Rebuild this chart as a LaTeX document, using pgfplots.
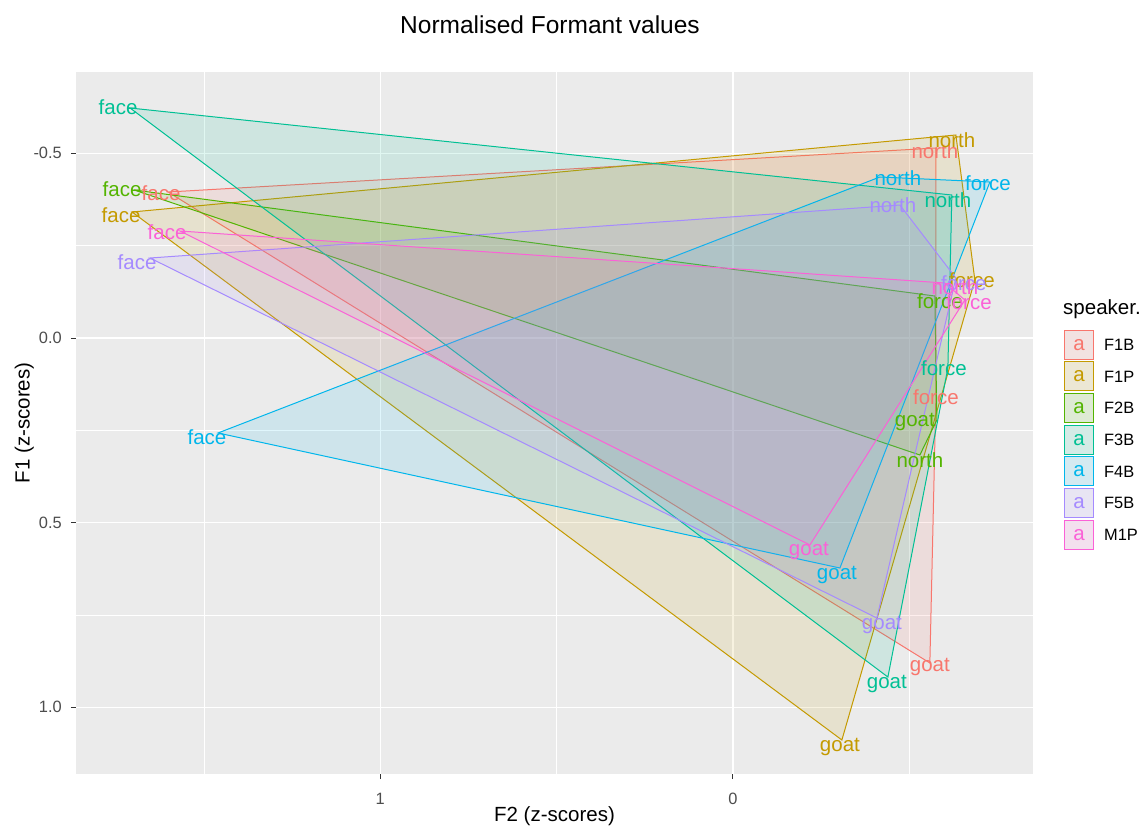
\documentclass[border=0pt]{standalone}
\usepackage{pgfplots}
\pgfplotsset{compat=1.18}
\usepackage{fontspec}
\setmainfont{Liberation Sans}
\definecolor{cA}{HTML}{F8766D}
\definecolor{cB}{HTML}{C49A00}
\definecolor{cC}{HTML}{53B400}
\definecolor{cD}{HTML}{00C094}
\definecolor{cE}{HTML}{00B6EB}
\definecolor{cF}{HTML}{A58AFF}
\definecolor{cG}{HTML}{FB61D7}
\definecolor{panel}{HTML}{EBEBEB}
\definecolor{gthirty}{HTML}{4D4D4D}
\definecolor{gtwenty}{HTML}{333333}
\definecolor{keybg}{HTML}{F2F2F2}
\newcommand\lab{\fontsize{20.5bp}{24bp}\selectfont}
\newcommand\tck{\fontsize{16.4bp}{19bp}\selectfont}
\pgfplotsset{
  poly/.style={draw=#1, fill=#1, fill opacity=0.12, draw opacity=1, line width=1bp},
  labs/.style={draw=none, mark=none, nodes near coords, point meta=explicit symbolic,
    every node near coord/.append style={anchor=center, inner sep=0pt, font=\lab, text=#1}},
}
\begin{document}
\begin{tikzpicture}[x=1bp,y=1bp]
\path[use as bounding box] (0,0) rectangle (1142,826);
\begin{axis}[
  at={(76bp,52bp)}, anchor=south west,
  scale only axis, width=957bp, height=702bp,
  xmin=-0.851, xmax=1.863, ymin=-0.7203, ymax=1.1806,
  x dir=reverse, y dir=reverse,
  axis background/.style={fill=panel},
  axis line style={draw=none},
  xtick={0,1}, xticklabels={0,1},
  ytick={-0.5,0,0.5,1}, yticklabels={-0.5,0.0,0.5,1.0},
  minor xtick={-0.5,0.5,1.5}, minor ytick={-0.25,0.25,0.75},
  grid=both,
  major grid style={white, line width=1.4bp},
  minor grid style={white, line width=0.7bp},
  tick align=outside, major tick length=5bp, minor tick length=0pt,
  major tick style={color=gtwenty, line width=1bp},
  xtick pos=left, ytick pos=left,
  xticklabel style={font=\tck, text=gthirty, inner sep=0pt, anchor=north},
  yticklabel style={font=\tck, text=gthirty, inner sep=0pt, anchor=east},
  xticklabel shift=14bp, yticklabel shift=9bp,
  clip=true,
]
% polygons
\addplot[poly=cA] table {
x y
1.6019 -0.3953
-0.5756 -0.5145
-0.5756 0.1598
-0.5585 0.8800
} -- cycle;
\addplot[poly=cB] table {
x y
1.7040 -0.3412
-0.6323 -0.5497
-0.6861 -0.1571
-0.3090 1.0885
} -- cycle;
\addplot[poly=cC] table {
x y
1.6983 -0.4008
-0.5727 -0.1137
-0.5784 0.2220
-0.5302 0.3168
} -- cycle;
\addplot[poly=cD] table {
x y
1.7097 -0.6228
-0.6209 -0.3872
-0.6096 0.0812
-0.4395 0.9180
} -- cycle;
\addplot[poly=cE] table {
x y
1.4602 0.2572
-0.4168 -0.4360
-0.7287 -0.4224
-0.3034 0.6228
} -- cycle;
\addplot[poly=cF] table {
x y
1.6530 -0.2166
-0.4735 -0.3601
-0.6323 -0.1625
-0.4083 0.7582
} -- cycle;
\addplot[poly=cG] table {
x y
1.5679 -0.2897
-0.6011 -0.1489
-0.6578 -0.1029
-0.2183 0.5605
} -- cycle;
% labels
\addplot[labs=cA] table[meta=l] {
x y l
1.6218 -0.3926 face
-0.5727 -0.5064 north
-0.5756 0.1598 force
-0.5585 0.8909 goat
};
\addplot[labs=cB] table[meta=l] {
x y l
1.7352 -0.3331 face
-0.6209 -0.5361 north
-0.6776 -0.1571 force
-0.3034 1.1075 goat
};
\addplot[labs=cC] table[meta=l] {
x y l
1.7323 -0.4035 face
-0.5869 -0.1002 force
-0.5160 0.2275 goat
-0.5302 0.3304 north
};
\addplot[labs=cD] table[meta=l] {
x y l
1.7437 -0.6255 face
-0.6096 -0.3737 north
-0.5982 0.0812 force
-0.4366 0.9369 goat
};
\addplot[labs=cE] table[meta=l] {
x y l
1.4914 0.2681 face
-0.4678 -0.4333 north
-0.7230 -0.4197 force
-0.2949 0.6418 goat
};
\addplot[labs=cF] table[meta=l] {
x y l
1.6898 -0.2058 face
-0.4536 -0.3601 north
-0.6549 -0.1489 force
-0.4225 0.7771 goat
};
\addplot[labs=cG] table[meta=l] {
x y l
1.6048 -0.2870 face
-0.6294 -0.1381 north
-0.6691 -0.0975 force
-0.2155 0.5768 goat
};
\end{axis}
% titles
\node[anchor=base, font=\fontsize{24.5bp}{28bp}\selectfont] at (550,792) {Normalised Formant values};
\node[anchor=base, font=\lab] at (554.5,4.5) {F2 (z-scores)};
\node[anchor=base, rotate=90, font=\lab] at (29.7,403) {F1 (z-scores)};
% legend
\node[anchor=base west, inner sep=0pt, font=\lab] at (1063,511) {speaker.};
\foreach \c/\t [count=\i from 0] in {cA/F1B,cB/F1P,cC/F2B,cD/F3B,cE/F4B,cF/F5B,cG/M1P}{
  \pgfmathsetmacro\yc{481.3-31.7*\i}
  \fill[keybg] (1064.5,\yc-14.5) rectangle (1093.5,\yc+14.5);
  \filldraw[draw=\c, fill=\c, fill opacity=0.12, draw opacity=1, line width=1bp] (1064.5,\yc-14.5) rectangle (1093.5,\yc+14.5);
  \node[text=\c, font=\lab, inner sep=0pt] at (1079,\yc) {a};
  \node[anchor=west, inner sep=0pt, font=\tck] at (1104,\yc) {\t};
}
\end{tikzpicture}
\end{document}
